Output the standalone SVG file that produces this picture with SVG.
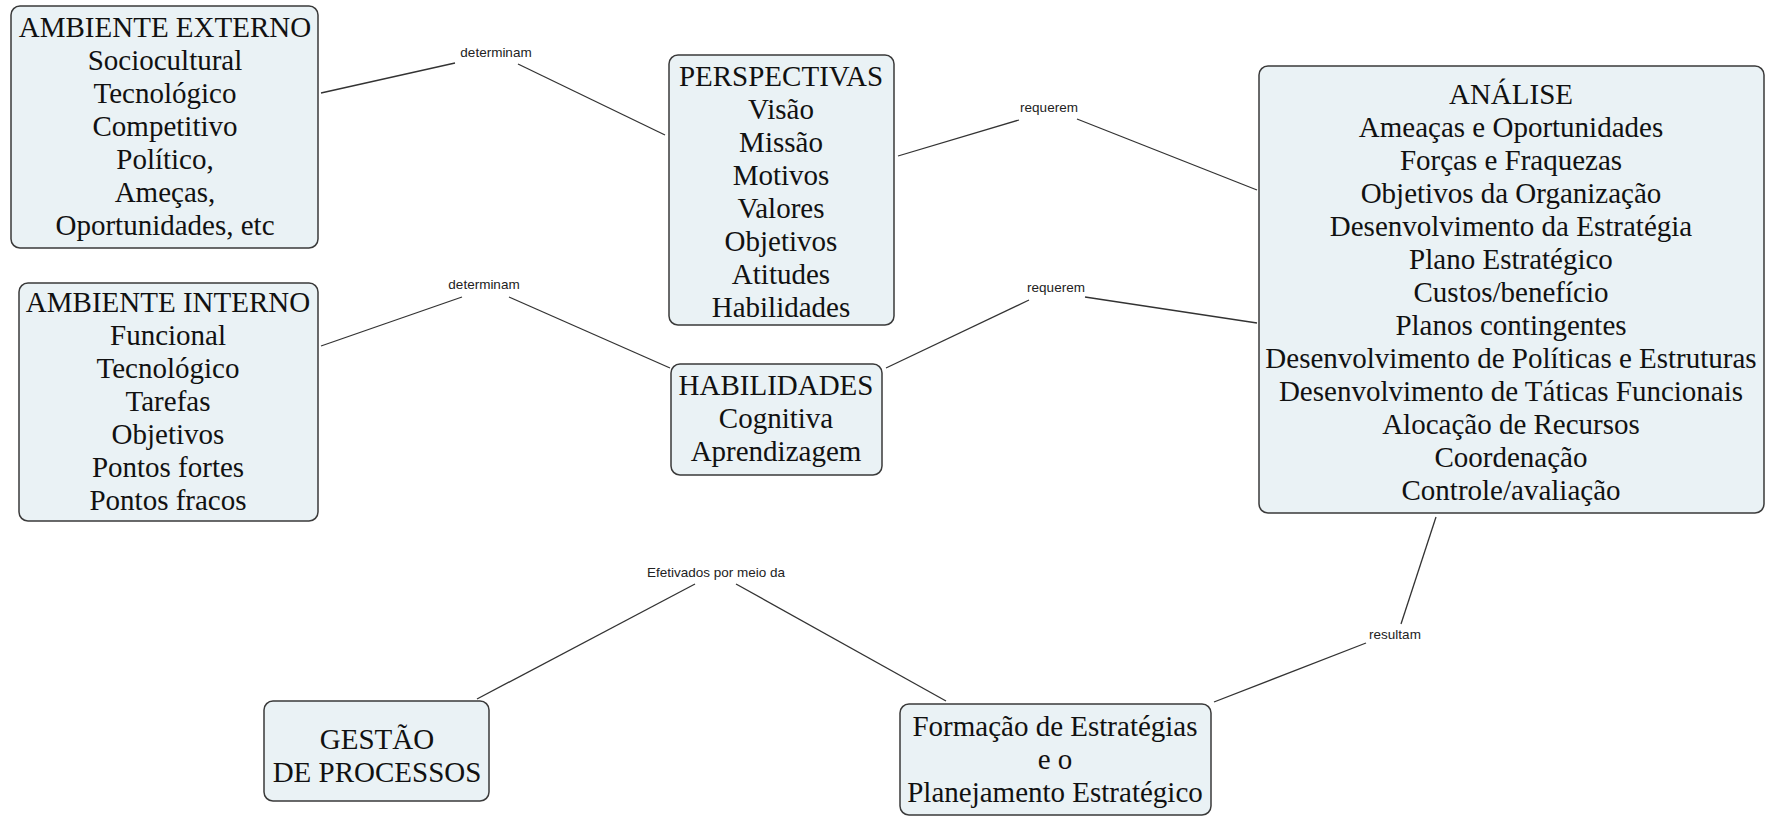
<svg xmlns="http://www.w3.org/2000/svg" width="1771" height="817" viewBox="0 0 1771 817">
<style>
.box{fill:#eaf2f5;stroke:#3a3a3a;stroke-width:1.5}
.t{font-family:"Liberation Serif","Times New Roman",serif;font-size:29px;fill:#111;text-anchor:middle}
.lbl{font-family:"Liberation Sans","Arial",sans-serif;font-size:13.5px;fill:#222;text-anchor:middle}
.c{stroke:#333;stroke-width:1.3;fill:none}
</style>
<rect width="1771" height="817" fill="#fff"/>
<g id="connectors">
<polyline class="c" points="321,93 455,63"/>
<polyline class="c" points="518,64 665,135"/>
<text class="lbl" x="496" y="57">determinam</text>
<polyline class="c" points="321,346 462,297"/>
<polyline class="c" points="509,297 670,368"/>
<text class="lbl" x="484" y="289">determinam</text>
<polyline class="c" points="898,156 1019,120"/>
<polyline class="c" points="1077,119 1257,190"/>
<text class="lbl" x="1049" y="112">requerem</text>
<polyline class="c" points="886,368 1029,300"/>
<polyline class="c" points="1085,297 1257,323"/>
<text class="lbl" x="1056" y="292">requerem</text>
<polyline class="c" points="477,699 695,584"/>
<polyline class="c" points="736,584 946,701"/>
<text class="lbl" x="716" y="577">Efetivados por meio da</text>
<polyline class="c" points="1214,702 1366,643"/>
<polyline class="c" points="1401,624 1436,517"/>
<text class="lbl" x="1395" y="639">resultam</text>
</g>
<g id="ambiente-externo">
<rect class="box" x="11" y="6" width="307" height="242" rx="9"/>
<text class="t" x="165" y="37">AMBIENTE EXTERNO</text>
<text class="t" x="165" y="70">Sociocultural</text>
<text class="t" x="165" y="103">Tecnológico</text>
<text class="t" x="165" y="136">Competitivo</text>
<text class="t" x="165" y="169">Político,</text>
<text class="t" x="165" y="202">Ameças,</text>
<text class="t" x="165" y="235">Oportunidades, etc</text>
</g>
<g id="ambiente-interno">
<rect class="box" x="19" y="283" width="299" height="238" rx="9"/>
<text class="t" x="168" y="312">AMBIENTE INTERNO</text>
<text class="t" x="168" y="345">Funcional</text>
<text class="t" x="168" y="378">Tecnológico</text>
<text class="t" x="168" y="411">Tarefas</text>
<text class="t" x="168" y="444">Objetivos</text>
<text class="t" x="168" y="477">Pontos fortes</text>
<text class="t" x="168" y="510">Pontos fracos</text>
</g>
<g id="perspectivas">
<rect class="box" x="669" y="55" width="225" height="270" rx="9"/>
<text class="t" x="781" y="86">PERSPECTIVAS</text>
<text class="t" x="781" y="119">Visão</text>
<text class="t" x="781" y="152">Missão</text>
<text class="t" x="781" y="185">Motivos</text>
<text class="t" x="781" y="218">Valores</text>
<text class="t" x="781" y="251">Objetivos</text>
<text class="t" x="781" y="284">Atitudes</text>
<text class="t" x="781" y="317">Habilidades</text>
</g>
<g id="habilidades">
<rect class="box" x="671" y="364" width="211" height="111" rx="9"/>
<text class="t" x="776" y="395">HABILIDADES</text>
<text class="t" x="776" y="428">Cognitiva</text>
<text class="t" x="776" y="461">Aprendizagem</text>
</g>
<g id="analise">
<rect class="box" x="1259" y="66" width="505" height="447" rx="9"/>
<text class="t" x="1511" y="104">ANÁLISE</text>
<text class="t" x="1511" y="137">Ameaças e Oportunidades</text>
<text class="t" x="1511" y="170">Forças e Fraquezas</text>
<text class="t" x="1511" y="203">Objetivos da Organização</text>
<text class="t" x="1511" y="236">Desenvolvimento da Estratégia</text>
<text class="t" x="1511" y="269">Plano Estratégico</text>
<text class="t" x="1511" y="302">Custos/benefício</text>
<text class="t" x="1511" y="335">Planos contingentes</text>
<text class="t" x="1511" y="368">Desenvolvimento de Políticas e Estruturas</text>
<text class="t" x="1511" y="401">Desenvolvimento de Táticas Funcionais</text>
<text class="t" x="1511" y="434">Alocação de Recursos</text>
<text class="t" x="1511" y="467">Coordenação</text>
<text class="t" x="1511" y="500">Controle/avaliação</text>
</g>
<g id="gestao-processos">
<rect class="box" x="264" y="701" width="225" height="100" rx="9"/>
<text class="t" x="377" y="749">GESTÃO</text>
<text class="t" x="377" y="782">DE PROCESSOS</text>
</g>
<g id="formacao-estrategias">
<rect class="box" x="900" y="704" width="311" height="111" rx="9"/>
<text class="t" x="1055" y="736">Formação de Estratégias</text>
<text class="t" x="1055" y="769">e o</text>
<text class="t" x="1055" y="802">Planejamento Estratégico</text>
</g>
</svg>
